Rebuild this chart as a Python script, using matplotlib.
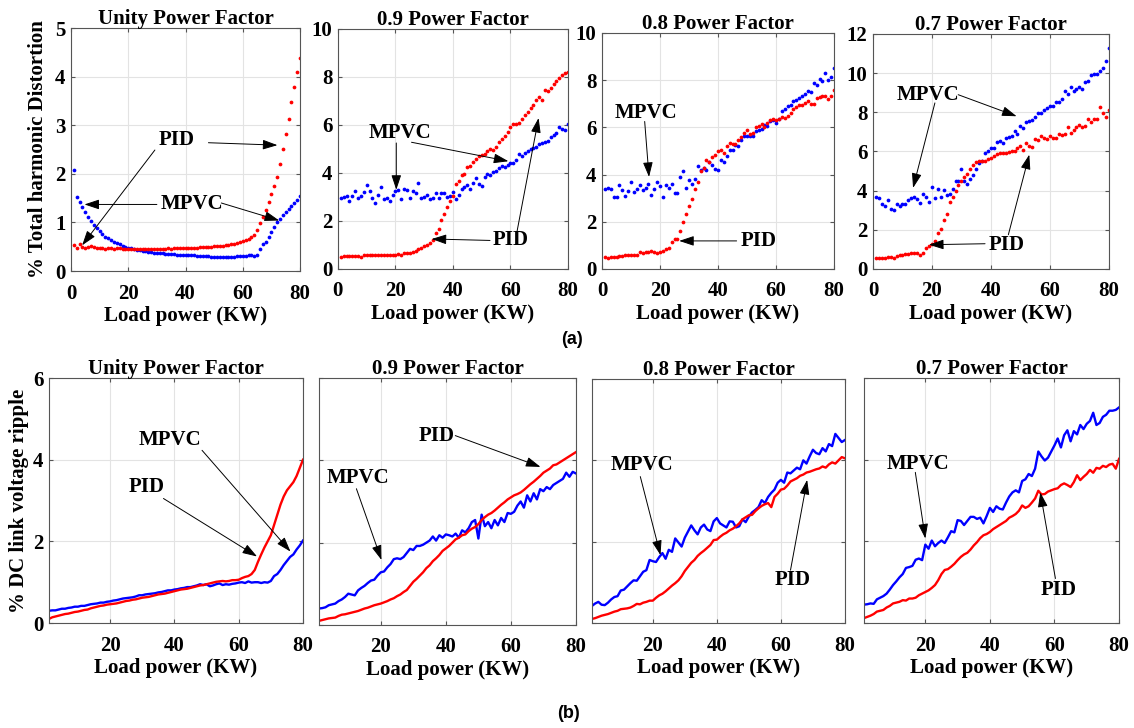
import matplotlib.pyplot as plt
import numpy as np

plt.rcParams['font.family'] = ['Liberation Serif', 'DejaVu Serif']
plt.rcParams['font.weight'] = 'bold'
plt.rcParams['axes.labelweight'] = 'bold'
plt.rcParams['axes.titleweight'] = 'bold'

# load steps (kW)
load_kw = np.arange(1, 81)

# ---- THD (%) ----
thd_mpvc_unity = [2.08, 1.52, 1.42, 1.32, 1.22, 1.12, 1.03, 0.95, 0.88, 0.82,
                  0.76, 0.71, 0.67, 0.64, 0.60, 0.57, 0.55, 0.52, 0.50, 0.48,
                  0.47, 0.45, 0.44, 0.43, 0.42, 0.41, 0.40, 0.39, 0.38, 0.38,
                  0.37, 0.37, 0.36, 0.36, 0.35, 0.35, 0.34, 0.34, 0.34, 0.33,
                  0.33, 0.32, 0.32, 0.31, 0.31, 0.30, 0.30, 0.30, 0.29, 0.29,
                  0.29, 0.28, 0.28, 0.28, 0.29, 0.29, 0.29, 0.30, 0.30, 0.31,
                  0.31, 0.32, 0.32, 0.31, 0.34, 0.45, 0.55, 0.60, 0.70, 0.80,
                  0.90, 1.00, 1.08, 1.15, 1.22, 1.28, 1.34, 1.40, 1.47, 1.54]
thd_pid_unity = [0.53, 0.48, 0.55, 0.50, 0.48, 0.50, 0.51, 0.49, 0.48, 0.47,
                 0.47, 0.46, 0.48, 0.47, 0.46, 0.48, 0.47, 0.46, 0.45, 0.46,
                 0.45, 0.46, 0.45, 0.45, 0.45, 0.45, 0.46, 0.46, 0.46, 0.46,
                 0.46, 0.46, 0.46, 0.47, 0.46, 0.47, 0.47, 0.47, 0.47, 0.47,
                 0.48, 0.48, 0.48, 0.48, 0.49, 0.49, 0.50, 0.50, 0.50, 0.51,
                 0.51, 0.52, 0.52, 0.53, 0.54, 0.55, 0.56, 0.57, 0.59, 0.61,
                 0.63, 0.66, 0.70, 0.75, 0.84, 0.98, 1.12, 1.25, 1.42, 1.58,
                 1.75, 1.94, 2.20, 2.52, 2.82, 3.12, 3.48, 3.78, 4.10, 4.38]

thd_mpvc_09 = [2.95, 3.00, 3.05, 2.85, 3.05, 3.25, 2.95, 3.05, 3.20, 3.50,
               3.25, 2.95, 2.75, 3.10, 3.40, 2.90, 2.95, 2.85, 3.10, 3.25,
               3.30, 2.90, 3.35, 3.30, 2.95, 3.25, 3.15, 3.60, 2.95, 3.00,
               3.10, 2.90, 2.95, 3.15, 2.95, 3.15, 3.15, 3.00, 3.05, 3.20,
               2.90, 3.10, 3.35, 3.40, 3.50, 3.35, 3.60, 3.80, 3.55, 3.45,
               3.85, 3.95, 3.90, 4.05, 4.10, 4.20, 4.30, 4.25, 4.35, 4.40,
               4.40, 4.55, 4.80, 4.70, 4.85, 4.90, 5.00, 5.05, 5.10, 5.20,
               5.25, 5.30, 5.35, 5.50, 5.60, 5.65, 5.90, 5.85, 5.80, 6.05]
thd_pid_09 = [0.52, 0.55, 0.55, 0.55, 0.53, 0.55, 0.55, 0.52, 0.57, 0.58,
              0.57, 0.57, 0.57, 0.58, 0.58, 0.60, 0.60, 0.58, 0.60, 0.60,
              0.62, 0.60, 0.65, 0.65, 0.68, 0.70, 0.75, 0.82, 0.88, 0.95,
              1.00, 1.10, 1.20, 1.50, 1.65, 2.05, 2.30, 2.60, 2.85, 3.05,
              3.55, 3.65, 3.90, 3.95, 4.25, 4.30, 4.45, 4.60, 4.70, 4.75,
              4.80, 4.90, 5.00, 4.95, 5.10, 5.30, 5.40, 5.55, 5.70, 5.90,
              6.05, 6.05, 6.10, 6.25, 6.40, 6.55, 6.70, 6.85, 7.05, 7.15,
              7.05, 7.45, 7.40, 7.55, 7.70, 7.85, 7.95, 8.10, 8.15, 8.20]

thd_mpvc_08 = [3.40, 3.45, 3.40, 3.05, 3.05, 3.55, 3.35, 3.10, 3.30, 3.70,
               3.25, 3.40, 3.55, 3.35, 3.45, 3.60, 3.15, 3.40, 3.70, 3.50,
               3.05, 3.55, 3.45, 3.60, 3.20, 3.20, 3.90, 4.15, 3.45, 3.75,
               3.60, 3.80, 4.35, 4.20, 4.30, 4.20, 4.55, 4.40, 4.25, 4.20,
               4.60, 4.55, 4.80, 5.05, 5.05, 5.25, 5.20, 5.45, 5.65, 5.65,
               5.65, 5.65, 5.85, 5.90, 5.95, 6.10, 6.05, 6.25, 6.30, 6.20,
               6.35, 6.70, 6.80, 6.90, 6.95, 7.10, 7.15, 7.25, 7.35, 7.40,
               7.55, 7.50, 7.90, 7.80, 8.05, 7.95, 8.30, 8.00, 8.15, 8.50]
thd_pid_08 = [0.50, 0.45, 0.50, 0.50, 0.52, 0.55, 0.55, 0.58, 0.60, 0.60,
              0.60, 0.58, 0.70, 0.68, 0.70, 0.70, 0.75, 0.72, 0.68, 0.72,
              0.78, 0.85, 0.90, 1.15, 1.25, 1.25, 1.60, 2.00, 2.35, 2.65,
              2.95, 3.40, 3.70, 4.15, 4.30, 4.60, 4.55, 4.75, 4.85, 5.00,
              5.05, 4.90, 5.20, 5.35, 5.30, 5.30, 5.45, 5.60, 5.75, 5.90,
              5.70, 5.75, 6.00, 6.05, 6.15, 6.00, 6.20, 6.30, 6.35, 6.30,
              6.35, 6.45, 6.40, 6.50, 6.60, 6.80, 6.85, 6.95, 6.95, 7.05,
              7.10, 7.00, 7.00, 7.25, 7.30, 7.35, 7.35, 7.20, 7.35, 7.60]

thd_mpvc_07 = [3.70, 3.60, 3.30, 3.20, 3.50, 3.05, 3.00, 3.30, 3.20, 3.30,
               3.30, 3.50, 3.60, 3.70, 3.55, 3.35, 3.85, 3.70, 3.40, 4.20,
               3.60, 4.10, 3.70, 4.05, 3.80, 3.85, 4.10, 4.50, 4.50, 5.10,
               4.50, 4.35, 4.60, 4.80, 5.10, 5.40, 5.50, 5.90, 6.05, 6.20,
               6.20, 6.50, 6.55, 6.45, 6.70, 6.75, 6.80, 7.05, 6.90, 7.30,
               7.20, 7.50, 7.55, 7.60, 7.75, 7.95, 7.95, 8.10, 8.20, 8.30,
               8.30, 8.55, 8.55, 8.70, 9.10, 8.95, 9.30, 9.10, 9.20, 9.30,
               9.20, 9.55, 9.60, 9.90, 9.95, 9.95, 10.10, 10.25, 10.60, 11.30]
thd_pid_07 = [0.55, 0.55, 0.55, 0.58, 0.60, 0.62, 0.58, 0.68, 0.70, 0.70,
              0.75, 0.78, 0.80, 0.80, 0.80, 0.70, 0.80, 1.05, 1.15, 1.30,
              1.45, 1.85, 2.05, 2.50, 2.80, 3.40, 3.70, 4.00, 4.30, 4.50,
              4.70, 4.85, 5.10, 5.30, 5.45, 5.50, 5.50, 5.50, 5.60, 5.65,
              5.75, 5.85, 5.90, 5.90, 5.90, 5.95, 6.00, 6.05, 6.20, 6.30,
              6.10, 6.45, 6.30, 6.25, 6.65, 6.60, 6.80, 6.70, 6.65, 6.80,
              6.70, 6.70, 6.90, 6.85, 6.90, 7.25, 6.95, 7.10, 7.25, 7.35,
              7.25, 7.30, 7.65, 7.50, 7.65, 7.65, 8.25, 7.95, 7.75, 8.10]

# ---- DC link voltage ripple (%) ----
rip_mpvc_unity = [0.30, 0.31, 0.31, 0.33, 0.35, 0.35, 0.37, 0.38, 0.40, 0.40,
                  0.42, 0.42, 0.44, 0.46, 0.47, 0.48, 0.50, 0.50, 0.52, 0.53,
                  0.55, 0.56, 0.58, 0.60, 0.61, 0.62, 0.63, 0.65, 0.68, 0.68,
                  0.70, 0.71, 0.72, 0.73, 0.75, 0.76, 0.78, 0.80, 0.80, 0.82,
                  0.83, 0.85, 0.86, 0.88, 0.88, 0.90, 0.92, 0.95, 0.93, 0.95,
                  0.90, 0.92, 0.95, 0.97, 0.93, 0.95, 0.94, 0.96, 0.97, 0.99,
                  1.00, 0.98, 1.02, 0.99, 1.00, 1.00, 0.98, 1.00, 0.99, 1.03,
                  1.15, 1.20, 1.30, 1.42, 1.52, 1.62, 1.68, 1.80, 1.90, 2.02]
rip_pid_unity = [0.10, 0.14, 0.16, 0.18, 0.20, 0.22, 0.23, 0.25, 0.27, 0.28,
                 0.30, 0.32, 0.33, 0.36, 0.38, 0.40, 0.42, 0.43, 0.45, 0.46,
                 0.47, 0.48, 0.50, 0.52, 0.54, 0.55, 0.57, 0.58, 0.60, 0.62,
                 0.63, 0.64, 0.66, 0.68, 0.70, 0.71, 0.72, 0.74, 0.76, 0.78,
                 0.80, 0.82, 0.83, 0.84, 0.86, 0.88, 0.90, 0.92, 0.93, 0.95,
                 0.97, 0.99, 1.01, 1.02, 1.03, 1.02, 1.03, 1.05, 1.05, 1.06,
                 1.10, 1.13, 1.15, 1.20, 1.30, 1.50, 1.68, 1.85, 2.00, 2.15,
                 2.40, 2.65, 2.90, 3.10, 3.25, 3.35, 3.45, 3.60, 3.80, 4.00]

rip_mpvc_09 = [0.40, 0.41, 0.43, 0.48, 0.50, 0.52, 0.58, 0.62, 0.68, 0.76,
               0.74, 0.72, 0.84, 0.90, 0.95, 1.02, 1.08, 1.10, 1.20, 1.28,
               1.30, 1.40, 1.48, 1.60, 1.62, 1.60, 1.65, 1.75, 1.85, 1.82,
               1.92, 1.92, 1.95, 2.00, 2.05, 2.15, 2.05, 2.18, 2.12, 2.20,
               2.18, 2.15, 2.22, 2.12, 2.30, 2.25, 2.35, 2.50, 2.55, 2.10,
               2.68, 2.40, 2.50, 2.35, 2.55, 2.42, 2.60, 2.50, 2.72, 2.70,
               2.75, 2.90, 3.00, 2.85, 3.15, 3.00, 3.20, 3.05, 3.30, 3.25,
               3.35, 3.30, 3.40, 3.45, 3.50, 3.55, 3.70, 3.60, 3.72, 3.68]
rip_pid_09 = [0.10, 0.12, 0.14, 0.16, 0.17, 0.18, 0.22, 0.25, 0.26, 0.28,
              0.30, 0.32, 0.34, 0.37, 0.40, 0.42, 0.45, 0.48, 0.50, 0.52,
              0.55, 0.58, 0.62, 0.65, 0.70, 0.74, 0.80, 0.85, 0.95, 1.05,
              1.12, 1.20, 1.28, 1.38, 1.45, 1.55, 1.62, 1.70, 1.80, 1.86,
              1.92, 2.00, 2.08, 2.12, 2.18, 2.20, 2.28, 2.34, 2.38, 2.45,
              2.55, 2.62, 2.68, 2.72, 2.78, 2.85, 2.92, 2.98, 3.05, 3.10,
              3.15, 3.18, 3.22, 3.28, 3.35, 3.42, 3.48, 3.55, 3.62, 3.70,
              3.75, 3.80, 3.88, 3.90, 3.95, 4.00, 4.05, 4.10, 4.15, 4.20]

rip_mpvc_08 = [0.42, 0.48, 0.52, 0.45, 0.44, 0.50, 0.58, 0.64, 0.66, 0.80,
               0.82, 0.90, 0.98, 1.05, 1.04, 1.15, 1.26, 1.30, 1.55, 1.52,
               1.50, 1.62, 1.72, 1.58, 1.80, 1.75, 2.08, 1.98, 1.88, 2.10,
               2.25, 2.40, 2.28, 2.18, 2.35, 2.42, 2.30, 2.26, 2.50, 2.58,
               2.45, 2.40, 2.35, 2.50, 2.49, 2.35, 2.38, 2.55, 2.48, 2.62,
               2.72, 2.78, 2.85, 3.02, 2.95, 3.10, 3.20, 3.28, 3.45, 3.52,
               3.45, 3.70, 3.68, 3.75, 3.82, 3.78, 4.00, 3.92, 4.10, 4.26,
               4.18, 4.15, 4.30, 4.22, 4.40, 4.35, 4.65, 4.55, 4.45, 4.50]
rip_pid_08 = [0.10, 0.12, 0.15, 0.18, 0.20, 0.22, 0.25, 0.28, 0.30, 0.34,
              0.35, 0.36, 0.38, 0.42, 0.47, 0.46, 0.50, 0.52, 0.55, 0.55,
              0.62, 0.68, 0.72, 0.78, 0.85, 0.92, 0.98, 1.05, 1.15, 1.28,
              1.38, 1.48, 1.55, 1.65, 1.72, 1.78, 1.85, 1.92, 2.04, 2.05,
              2.12, 2.18, 2.22, 2.28, 2.32, 2.38, 2.45, 2.55, 2.60, 2.65,
              2.66, 2.75, 2.82, 2.88, 2.92, 2.95, 2.85, 3.10, 3.18, 3.28,
              3.30, 3.38, 3.48, 3.52, 3.56, 3.62, 3.65, 3.70, 3.72, 3.75,
              3.78, 3.80, 3.85, 3.82, 3.90, 3.95, 3.92, 4.00, 4.08, 4.05]

rip_mpvc_07 = [0.45, 0.46, 0.48, 0.47, 0.58, 0.62, 0.66, 0.72, 0.82, 0.93,
               1.02, 1.12, 1.20, 1.35, 1.37, 1.40, 1.55, 1.58, 1.54, 1.92,
               1.82, 2.02, 1.88, 1.96, 2.02, 1.96, 2.10, 2.25, 2.22, 2.52,
               2.50, 2.40, 2.50, 2.60, 2.60, 2.55, 2.58, 2.44, 2.62, 2.82,
               2.72, 2.86, 2.80, 2.78, 2.95, 3.10, 3.20, 3.25, 3.20, 3.48,
               3.52, 3.65, 3.60, 3.78, 4.20, 4.08, 3.98, 4.05, 4.20, 4.35,
               4.52, 4.30, 4.60, 4.72, 4.45, 4.70, 4.62, 4.85, 4.75, 4.88,
               4.95, 5.15, 4.85, 4.90, 5.05, 5.10, 5.20, 5.20, 5.22, 5.28]
rip_pid_07 = [0.12, 0.15, 0.18, 0.22, 0.28, 0.30, 0.32, 0.38, 0.42, 0.48,
              0.50, 0.52, 0.56, 0.55, 0.60, 0.60, 0.62, 0.68, 0.72, 0.76,
              0.80, 0.86, 0.93, 1.05, 1.20, 1.30, 1.32, 1.38, 1.45, 1.54,
              1.62, 1.68, 1.72, 1.80, 1.90, 1.98, 2.08, 2.15, 2.18, 2.23,
              2.30, 2.35, 2.40, 2.45, 2.50, 2.58, 2.62, 2.67, 2.75, 2.88,
              2.82, 2.86, 2.95, 3.05, 3.24, 3.15, 3.16, 3.22, 3.25, 3.28,
              3.30, 3.38, 3.42, 3.38, 3.33, 3.45, 3.62, 3.50, 3.58, 3.65,
              3.75, 3.68, 3.80, 3.78, 3.85, 3.82, 3.88, 3.90, 3.78, 4.02]

titles = ['Unity Power Factor', '0.9 Power Factor', '0.8 Power Factor', '0.7 Power Factor']
thd_mpvc = [thd_mpvc_unity, thd_mpvc_09, thd_mpvc_08, thd_mpvc_07]
thd_pid = [thd_pid_unity, thd_pid_09, thd_pid_08, thd_pid_07]
rip_mpvc = [rip_mpvc_unity, rip_mpvc_09, rip_mpvc_08, rip_mpvc_07]
rip_pid = [rip_pid_unity, rip_pid_09, rip_pid_08, rip_pid_07]
thd_ymax = [5, 10, 10, 12]
thd_ystep = [1, 2, 2, 2]

FS = 15
BLUE = '#0000ff'
RED = '#ff0000'

fig = plt.figure(figsize=(11.34, 7.28), dpi=100)

top_pos = [[0.0626, 0.6277, 0.2020, 0.3338],
           [0.2980, 0.6305, 0.2028, 0.3297],
           [0.5309, 0.6305, 0.2046, 0.3242],
           [0.7698, 0.6305, 0.2081, 0.3228]]
bot_pos = [[0.0432, 0.1442, 0.2240, 0.3365],
           [0.2813, 0.1415, 0.2266, 0.3393],
           [0.5220, 0.1442, 0.2231, 0.3352],
           [0.7619, 0.1442, 0.2249, 0.3365]]


def style(ax):
    ax.grid(True, color='#e3e3e3', lw=0.8)
    ax.set_axisbelow(True)
    for s in ax.spines.values():
        s.set_color('#555555')
        s.set_linewidth(0.8)
    ax.tick_params(direction='in', top=True, right=True, length=3,
                   color='#555555', labelsize=FS, width=0.8)
    ax.tick_params(axis='x', pad=9)
    ax.tick_params(axis='y', pad=4)
    for lab in ax.get_xticklabels() + ax.get_yticklabels():
        lab.set_fontweight('bold')


def note(ax, label, txt_xy, arrows):
    ax.text(txt_xy[0], txt_xy[1], label, ha='center', va='center',
            fontsize=FS, fontweight='bold')
    for start, tip in arrows:
        ax.annotate('', xy=tip, xytext=start,
                    arrowprops=dict(arrowstyle='-|>,head_length=0.9,head_width=0.3',
                                    lw=0.7, color='black', shrinkA=0, shrinkB=0))


# (a) THD panels
top_axes = []
for i in range(4):
    ax = fig.add_axes(top_pos[i])
    ax.plot(load_kw, thd_mpvc[i], 'o', color=BLUE, ms=2.7, mew=0)
    ax.plot(load_kw, thd_pid[i], 'o', color=RED, ms=2.7, mew=0)
    ax.set_xlim(0, 80)
    ax.set_ylim(0, thd_ymax[i])
    ax.set_xticks([0, 20, 40, 60, 80])
    ax.set_yticks(np.arange(0, thd_ymax[i] + 0.1, thd_ystep[i]))
    style(ax)
    ax.set_title(titles[i], fontsize=FS, fontweight='bold', pad=3)
    ax.set_xlabel('Load power (KW)', fontsize=FS, fontweight='bold', labelpad=2)
    top_axes.append(ax)
top_axes[0].set_ylabel('% Total harmonic Distortion', fontsize=FS,
                       fontweight='bold', labelpad=5)

note(top_axes[0], 'PID', (36.9, 2.69), [((48, 2.64), (72.1, 2.59)),
                                         ((29.3, 2.49), (3.9, 0.53))])
note(top_axes[0], 'MPVC', (42.2, 1.37), [((30.0, 1.37), (4.7, 1.37)),
                                          ((52.5, 1.40), (72.7, 1.04))])
note(top_axes[1], 'MPVC', (21.5, 5.67), [((20.3, 5.25), (20.3, 3.3)),
                                          ((25.6, 5.28), (59.3, 4.49))])
note(top_axes[1], 'PID', (60.1, 1.19), [((52.9, 1.19), (32.6, 1.25)),
                                         ((62.2, 1.5), (69.8, 6.29))])
note(top_axes[2], 'MPVC', (15.1, 6.6), [((14.7, 6.25), (16.2, 3.9))])
note(top_axes[2], 'PID', (53.9, 1.19), [((46.4, 1.19), (26.6, 1.19))])
note(top_axes[3], 'MPVC', (18.7, 8.9), [((28.9, 8.9), (48.7, 7.8)),
                                         ((21.0, 8.48), (13.6, 4.14))])
note(top_axes[3], 'PID', (45.3, 1.24), [((38.0, 1.29), (19.0, 1.24)),
                                         ((45.9, 1.75), (53.0, 5.84))])

# (b) DC link ripple panels
bot_axes = []
for i in range(4):
    ax = fig.add_axes(bot_pos[i])
    ax.plot(load_kw, rip_mpvc[i], '-', color=BLUE, lw=1.7)
    ax.plot(load_kw, rip_pid[i], '-', color=RED, lw=1.7)
    ax.set_xlim(1, 80)
    ax.set_ylim(0, 6)
    ax.set_xticks([20, 40, 60, 80])
    ax.set_yticks([0, 2, 4, 6])
    style(ax)
    if i > 0:
        ax.set_yticklabels([])
    ax.set_title(titles[i], fontsize=FS, fontweight='bold', pad=3)
    ax.set_xlabel('Load power (KW)', fontsize=FS, fontweight='bold', labelpad=2)
    bot_axes.append(ax)
bot_axes[0].set_ylabel('% DC link voltage ripple', fontsize=FS,
                       fontweight='bold', labelpad=3)

note(bot_axes[0], 'MPVC', (38.7, 4.48), [((48.6, 4.23), (76.1, 1.75))])
note(bot_axes[0], 'PID', (31.4, 3.34), [((36.6, 3.05), (65.7, 1.63))])
note(bot_axes[1], 'PID', (37.2, 4.6), [((42.9, 4.6), (69.1, 3.84))])
note(bot_axes[1], 'MPVC', (13.0, 3.56), [((12.5, 3.31), (20.2, 1.58))])
note(bot_axes[2], 'MPVC', (16.7, 3.89), [((16.1, 3.6), (22.4, 1.67))])
note(bot_axes[2], 'PID', (63.7, 1.05), [((63.0, 1.3), (68.2, 3.52))])
note(bot_axes[3], 'MPVC', (17.6, 3.89), [((16.9, 3.69), (20.0, 2.07))])
note(bot_axes[3], 'PID', (61.4, 0.8), [((60.3, 1.09), (55.6, 3.2))])

fig.text(572 / 1134, 1 - 340 / 728, '(a)', ha='center', va='center',
         fontsize=13, fontweight='bold', family='Liberation Sans')
fig.text(568 / 1134, 1 - 714 / 728, '(b)', ha='center', va='center',
         fontsize=13, fontweight='bold', family='Liberation Sans')

fig.savefig('out.png', dpi=100)
